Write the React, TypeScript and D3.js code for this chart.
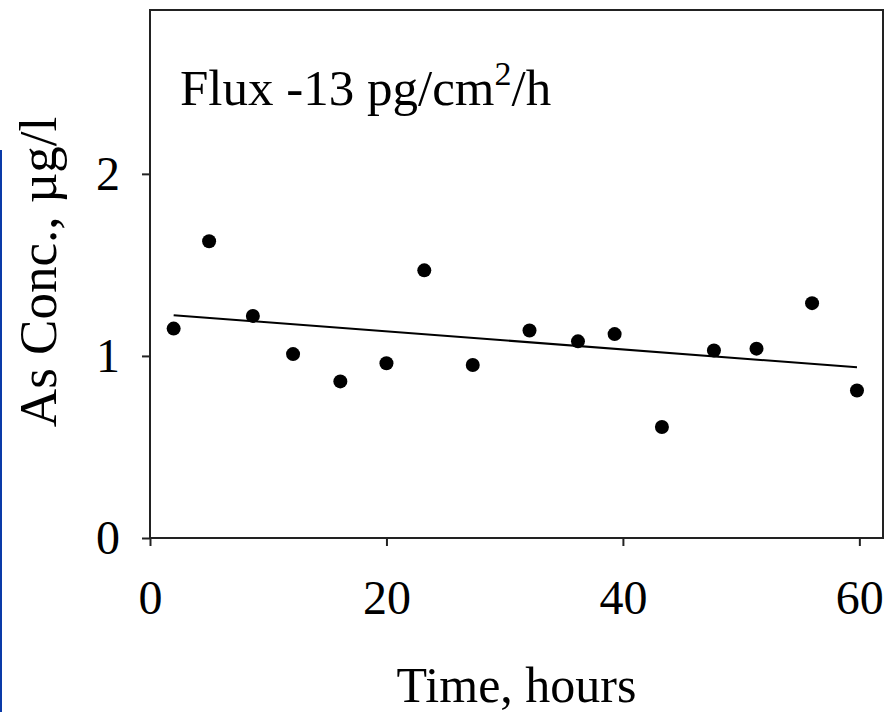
import React, { useEffect, useRef } from "react";
import * as d3 from "d3";

// hours vs As concentration (µg/l)
const hours = [2.0, 5.0, 8.7, 12.1, 16.1, 20.0, 23.2, 27.3, 32.1, 36.2, 39.3, 43.3, 47.7, 51.3, 56.0, 59.8];
const conc = [1.15, 1.63, 1.22, 1.01, 0.86, 0.96, 1.47, 0.95, 1.14, 1.08, 1.12, 0.61, 1.03, 1.04, 1.29, 0.81];

// fitted trend line end points
const trendHours = [2.0, 59.8];
const trendConc = [1.224, 0.938];

const xTicks = [0, 20, 40, 60];
const yTicks = [0, 1, 2];

const FONT = "'Liberation Serif', 'Times New Roman', serif";

function App() {
  const ref = useRef<SVGSVGElement | null>(null);

  useEffect(() => {
    const width = 887;
    const height = 712;
    const margin = { left: 150, top: 10, right: 4, bottom: 174 };

    const svg = d3.select(ref.current);
    svg.selectAll("*").remove();

    const xScale = d3
      .scaleLinear()
      .domain([0, 62])
      .range([margin.left, width - margin.right]);

    const yScale = d3
      .scaleLinear()
      .domain([0, 2.9])
      .range([height - margin.bottom, margin.top]);

    // blue edge line on the far left
    svg
      .append("line")
      .attr("x1", 1)
      .attr("x2", 1)
      .attr("y1", 150)
      .attr("y2", height)
      .attr("stroke", "#0a3aa8")
      .attr("stroke-width", 2);

    // plot frame
    svg
      .append("rect")
      .attr("x", xScale(0))
      .attr("y", yScale(2.9))
      .attr("width", xScale(62) - xScale(0))
      .attr("height", yScale(0) - yScale(2.9))
      .attr("fill", "none")
      .attr("stroke", "#222")
      .attr("stroke-width", 2);

    // x axis
    const xAxis = svg
      .append("g")
      .attr("transform", `translate(0,${yScale(0)})`)
      .call(
        d3
          .axisBottom(xScale)
          .tickValues(xTicks)
          .tickSize(8)
          .tickPadding(34)
          .tickFormat(d3.format("d"))
      );
    xAxis.select(".domain").remove();
    xAxis.selectAll("line").attr("stroke", "#222").attr("stroke-width", 2);
    xAxis
      .selectAll("text")
      .attr("fill", "#000")
      .attr("font-family", FONT)
      .attr("font-size", 48);

    // y axis
    const yAxis = svg
      .append("g")
      .attr("transform", `translate(${xScale(0)},0)`)
      .call(
        d3
          .axisLeft(yScale)
          .tickValues(yTicks)
          .tickSize(8)
          .tickPadding(22)
          .tickFormat(d3.format("d"))
      );
    yAxis.select(".domain").remove();
    yAxis.selectAll("line").attr("stroke", "#222").attr("stroke-width", 2);
    yAxis
      .selectAll("text")
      .attr("fill", "#000")
      .attr("font-family", FONT)
      .attr("font-size", 48);

    // trend line
    const line = d3
      .line<number>()
      .x((d) => xScale(d))
      .y((d, i) => yScale(trendConc[i]));

    svg
      .append("path")
      .datum(trendHours)
      .attr("d", line)
      .attr("fill", "none")
      .attr("stroke", "#000")
      .attr("stroke-width", 2);

    // dots
    svg
      .selectAll(".dot")
      .data(hours)
      .join("circle")
      .attr("class", "dot")
      .attr("cx", (d) => xScale(d))
      .attr("cy", (d, i) => yScale(conc[i]))
      .attr("r", 7)
      .attr("fill", "#000");

    // annotation
    const note = svg
      .append("text")
      .attr("x", 180)
      .attr("y", 105)
      .attr("font-family", FONT)
      .attr("font-size", 51)
      .attr("fill", "#000");
    note.append("tspan").text("Flux -13 pg/cm");
    note.append("tspan").attr("font-size", 34).attr("dy", -20).text("2");
    note.append("tspan").attr("dy", 20).text("/h");

    // axis titles
    svg
      .append("text")
      .attr("x", (xScale(0) + xScale(62)) / 2)
      .attr("y", 702)
      .attr("text-anchor", "middle")
      .attr("font-family", FONT)
      .attr("font-size", 50)
      .attr("fill", "#000")
      .text("Time, hours");

    svg
      .append("text")
      .attr("transform", `translate(56,272) rotate(-90)`)
      .attr("text-anchor", "middle")
      .attr("font-family", FONT)
      .attr("font-size", 53)
      .attr("fill", "#000")
      .text("As Conc., µg/l");
  }, []);

  return (
    <svg
      ref={ref}
      width={887}
      height={712}
      style={{ position: "absolute", left: 0, top: 0, background: "#fff" }}
    ></svg>
  );
}

export default App;
